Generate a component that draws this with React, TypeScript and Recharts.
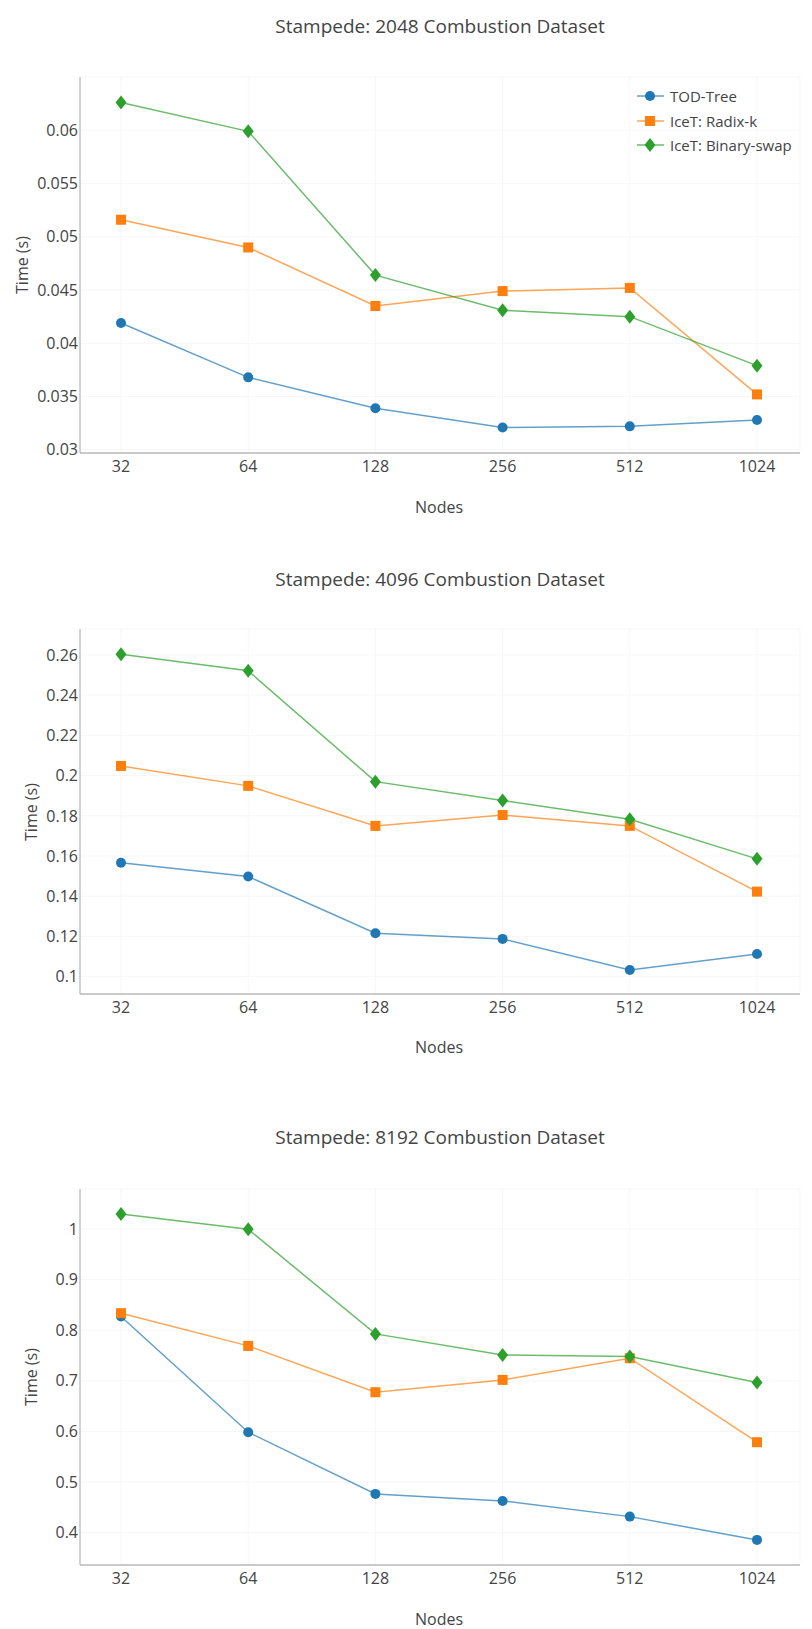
import React from 'react';
import { LineChart, Line, XAxis, YAxis, CartesianGrid, Legend } from 'recharts';

const NODES = ['32', '64', '128', '256', '512', '1024'];

const TOD_2048 = [0.0419, 0.0368, 0.0339, 0.0321, 0.0322, 0.0328];
const RADIX_2048 = [0.0516, 0.049, 0.0435, 0.0449, 0.0452, 0.0352];
const BSWAP_2048 = [0.0626, 0.0599, 0.0464, 0.0431, 0.0425, 0.0379];

const TOD_4096 = [0.1567, 0.1498, 0.1216, 0.1188, 0.1033, 0.1113];
const RADIX_4096 = [0.2048, 0.1949, 0.175, 0.1804, 0.175, 0.1423];
const BSWAP_4096 = [0.2604, 0.2521, 0.197, 0.1876, 0.1783, 0.1586];

const TOD_8192 = [0.827, 0.5984, 0.4765, 0.4626, 0.4316, 0.3856];
const RADIX_8192 = [0.8336, 0.769, 0.6774, 0.7018, 0.7446, 0.5786];
const BSWAP_8192 = [1.0298, 0.9995, 0.7927, 0.7512, 0.7478, 0.6965];

const TICKS_2048 = [0.03, 0.035, 0.04, 0.045, 0.05, 0.055, 0.06];
const TICKS_4096 = [0.1, 0.12, 0.14, 0.16, 0.18, 0.2, 0.22, 0.24, 0.26];
const TICKS_8192 = [0.4, 0.5, 0.6, 0.7, 0.8, 0.9, 1];

const SERIES = [
  { key: 'tod', name: 'TOD-Tree', color: '#1f77b4', shape: 'circle' },
  { key: 'radix', name: 'IceT: Radix-k', color: '#ff7f0e', shape: 'square' },
  { key: 'bswap', name: 'IceT: Binary-swap', color: '#2ca02c', shape: 'diamond' },
];

const FONT = '"Open Sans", "Noto Sans", sans-serif';
const TEXT = '#444';

const buildRows = (tod: number[], radix: number[], bswap: number[]) =>
  NODES.map((n, i) => ({ nodes: n, tod: tod[i], radix: radix[i], bswap: bswap[i] }));

const Marker = ({ shape, cx, cy, color }: { shape: string; cx: number; cy: number; color: string }) => {
  if (shape === 'square') return <rect x={cx - 5} y={cy - 5} width={10} height={10} fill={color} />;
  if (shape === 'diamond')
    return <path d={`M${cx},${cy - 7}L${cx + 5.5},${cy}L${cx},${cy + 7}L${cx - 5.5},${cy}Z`} fill={color} />;
  return <circle cx={cx} cy={cy} r={5} fill={color} />;
};

const LegendBox = () => (
  <div style={{ fontFamily: FONT, fontSize: 15, color: TEXT }}>
    {SERIES.map((s) => (
      <div key={s.key} style={{ display: 'flex', alignItems: 'center', height: 24.5 }}>
        <svg width={30} height={16}>
          <line x1={1} y1={8} x2={28} y2={8} stroke={s.color} strokeWidth={1.5} strokeOpacity={0.7} />
          <Marker shape={s.shape} cx={14} cy={8} color={s.color} />
        </svg>
        <span style={{ marginLeft: 4 }}>{s.name}</span>
      </div>
    ))}
  </div>
);

interface PanelProps {
  title: string;
  rows: { nodes: string; tod: number; radix: number; bswap: number }[];
  ticks: number[];
  domain: [number, number];
  plotTop: number;
  plotBottom: number;
  titleY: number;
  nodesY: number;
  yLabelX: number;
  legend?: boolean;
}

const Panel: React.FC<PanelProps> = ({ title, rows, ticks, domain, plotTop, plotBottom, titleY, nodesY, yLabelX, legend }) => {
  const h = plotBottom - plotTop + 50;
  const mid = (plotTop + plotBottom) / 2;
  return (
    <>
      <div style={{ position: 'absolute', left: 440, top: titleY, transform: 'translate(-50%,-50%)', fontSize: 19, whiteSpace: 'nowrap' }}>
        {title}
      </div>
      <div style={{ position: 'absolute', left: 439, top: nodesY, transform: 'translate(-50%,-50%)', fontSize: 16 }}>Nodes</div>
      <div
        style={{ position: 'absolute', left: yLabelX, top: mid, transform: 'translate(-50%,-50%) rotate(-90deg)', fontSize: 16, whiteSpace: 'nowrap' }}
      >
        Time (s)
      </div>
      <div style={{ position: 'absolute', left: 0, top: plotTop - 10 }}>
        <LineChart width={812} height={h} data={rows} margin={{ top: 10, right: 12, bottom: 10, left: 30 }}>
          <CartesianGrid stroke="#f7f7f7" />
          <XAxis
            dataKey="nodes"
            padding={{ left: 41, right: 43 }}
            height={30}
            stroke="#999"
            tickLine={false}
            tick={{ fill: TEXT, fontSize: 16, fontFamily: FONT }}
          />
          <YAxis
            type="number"
            domain={domain}
            ticks={ticks}
            width={50}
            stroke="#aaa"
            tickLine={false}
            tickSize={0}
            tickMargin={2}
            tick={{ fill: TEXT, fontSize: 16, fontFamily: FONT }}
          />
          {legend && (
            <Legend
              layout="vertical"
              align="center"
              verticalAlign="middle"
              content={() => <LegendBox />}
              wrapperStyle={{ top: 84 - (plotTop - 10), left: 636, width: 180 }}
            />
          )}
          {SERIES.map((s) => (
            <Line
              key={s.key}
              dataKey={s.key}
              name={s.name}
              stroke={s.color}
              strokeWidth={1.5}
              strokeOpacity={0.7}
              isAnimationActive={false}
              dot={(p: any) => <Marker key={`${s.key}-${p.index}`} shape={s.shape} cx={p.cx} cy={p.cy} color={s.color} />}
              activeDot={false}
            />
          ))}
        </LineChart>
      </div>
    </>
  );
};

export default function App() {
  return (
    <div
      style={{ position: 'absolute', left: 0, top: 0, width: 812, height: 1629, background: '#fff', fontFamily: FONT, color: TEXT }}
    >
      <Panel
        title="Stampede: 2048 Combustion Dataset"
        rows={buildRows(TOD_2048, RADIX_2048, BSWAP_2048)}
        ticks={TICKS_2048}
        domain={[0.0297, 0.065]}
        plotTop={77}
        plotBottom={453}
        titleY={26}
        nodesY={507}
        yLabelX={22}
        legend
      />
      <Panel
        title="Stampede: 4096 Combustion Dataset"
        rows={buildRows(TOD_4096, RADIX_4096, BSWAP_4096)}
        ticks={TICKS_4096}
        domain={[0.0914, 0.2729]}
        plotTop={629}
        plotBottom={994}
        titleY={579}
        nodesY={1047}
        yLabelX={31}
      />
      <Panel
        title="Stampede: 8192 Combustion Dataset"
        rows={buildRows(TOD_8192, RADIX_8192, BSWAP_8192)}
        ticks={TICKS_8192}
        domain={[0.336, 1.079]}
        plotTop={1189}
        plotBottom={1565}
        titleY={1137}
        nodesY={1619}
        yLabelX={31}
      />
    </div>
  );
}
